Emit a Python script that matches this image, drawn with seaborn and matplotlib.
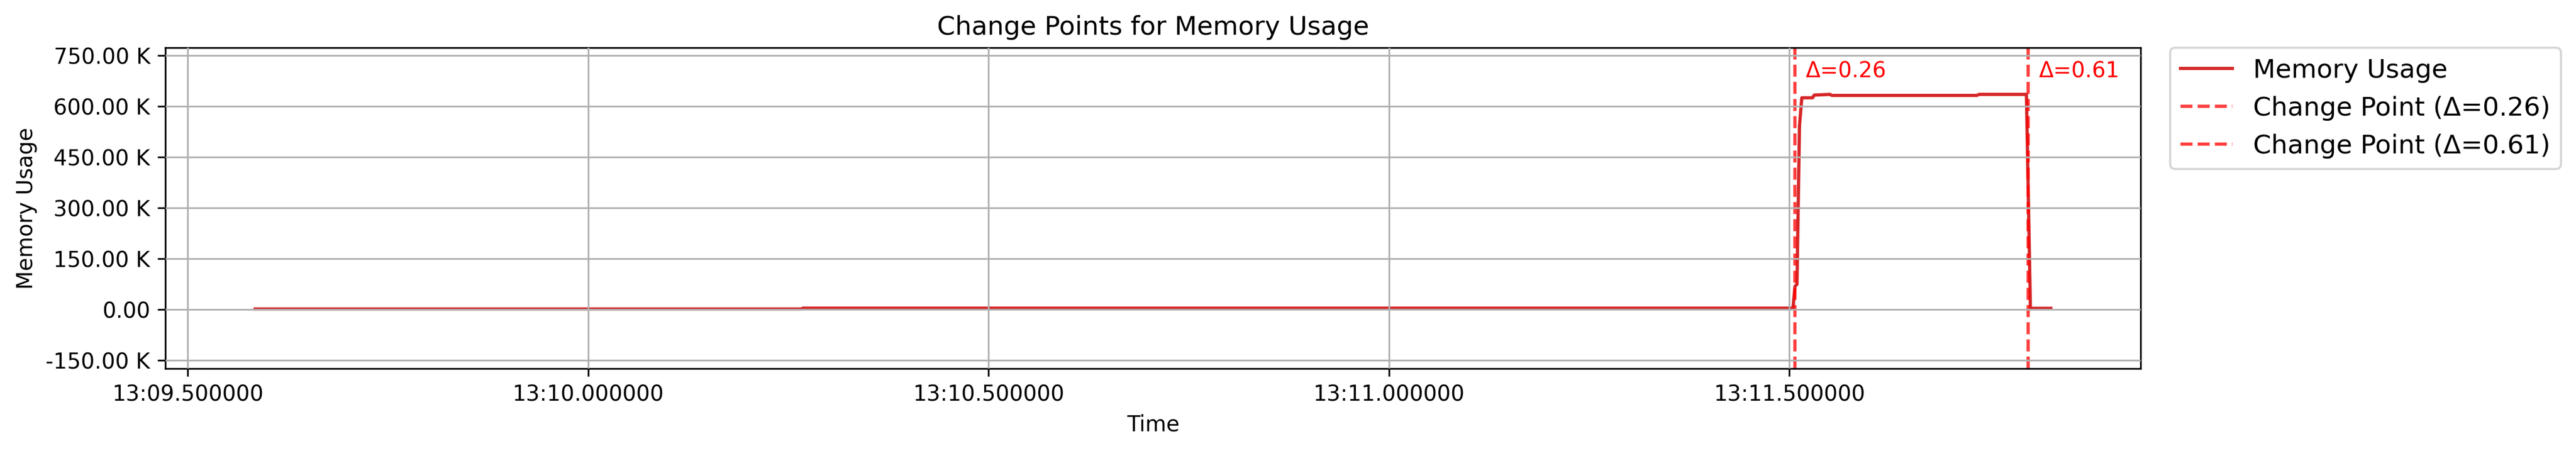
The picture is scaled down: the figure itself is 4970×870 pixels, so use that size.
import matplotlib
matplotlib.use("Agg")
import matplotlib.pyplot as plt
import matplotlib.dates as mdates
import matplotlib.ticker as mticker
import seaborn as sns
import pandas as pd
import numpy as np

# ---- data ----
base_time = "2024-01-01 10:13:00"
seconds = [9.584, 10.266, 10.268, 11.5045, 11.507, 11.5095, 11.5126, 11.5155,
           11.529, 11.531, 11.5506, 11.553, 11.734, 11.737, 11.796, 11.801, 11.8265]
memory_k = [1.0, 1.0, 3.5, 3.5, 68, 74, 542, 625,
            625, 633, 635, 632, 632, 635, 635, 3.0, 3.0]
change_seconds = [11.507, 11.798]
change_deltas = [0.26, 0.61]
y_ticks_k = [-150, 0, 150, 300, 450, 600, 750]

times = pd.Timestamp(base_time) + pd.to_timedelta(seconds, unit="s")
df = pd.DataFrame({"Time": times, "Memory Usage": np.array(memory_k) * 1000.0})
cp_times = pd.Timestamp(base_time) + pd.to_timedelta(change_seconds, unit="s")

fig = plt.figure(figsize=(4970 / 300, 870 / 300), dpi=300)
ax = fig.add_axes([319 / 4970, (870 - 711) / 870, (4130 - 319) / 4970, (711 - 92) / 870])

sns.lineplot(data=df, x="Time", y="Memory Usage", color="#d62728", lw=1.5,
             label="Memory Usage", ax=ax)

for t, d in zip(cp_times, change_deltas):
    ax.axvline(t, color="red", linestyle="--", alpha=0.75, lw=1.5,
               label=f"Change Point (\u0394={d:.2f})")
    ax.annotate(f"\u0394={d:.2f}", xy=(t, 1.0), xycoords=("data", "axes fraction"),
                xytext=(5, -6), textcoords="offset points", color="red",
                fontsize=10, va="top", ha="left")

ax.set_ylim(-175000, 773000)
ax.set_yticks([v * 1000 for v in y_ticks_k])


def kfmt(x, pos):
    if abs(x) >= 1000:
        return f"{x / 1000:.2f} K"
    return f"{x:.2f}"


ax.yaxis.set_major_formatter(mticker.FuncFormatter(kfmt))
ax.xaxis.set_major_locator(mdates.MicrosecondLocator(interval=500000))
ax.xaxis.set_major_formatter(mdates.DateFormatter("%M:%S.%f"))

ax.grid(True)
ax.set_axisbelow(False)
ax.set_title("Change Points for Memory Usage", fontsize=12)
ax.set_xlabel("Time")
ax.set_ylabel("Memory Usage")
ax.legend(loc="upper left", bbox_to_anchor=(1.015, 1.0), fontsize=12, borderaxespad=0)

fig.savefig("out.png", dpi=300)
